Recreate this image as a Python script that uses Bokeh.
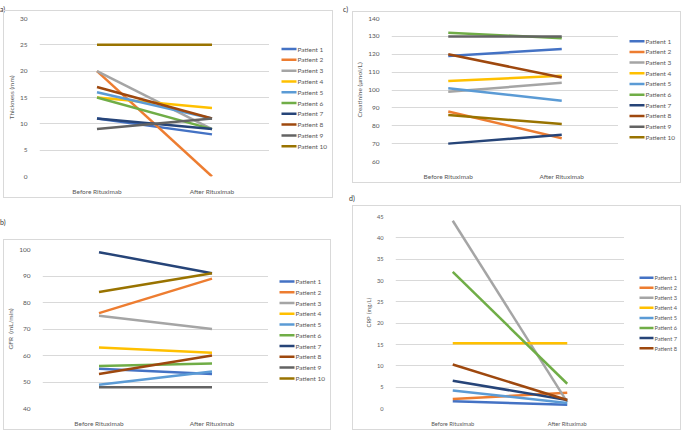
from bokeh.plotting import figure
from bokeh.models import Range1d, Div, Spacer
from bokeh.core.properties import value
from bokeh.layouts import row, column
from bokeh.embed import file_html
from bokeh.resources import INLINE

categories = ["Before Rituximab", "After Rituximab"]
patients = ["Patient 1", "Patient 2", "Patient 3", "Patient 4", "Patient 5",
            "Patient 6", "Patient 7", "Patient 8", "Patient 9", "Patient 10"]
colors = ["#4472C4", "#ED7D31", "#A5A5A5", "#FFC000", "#5B9BD5",
          "#70AD47", "#264478", "#9E480E", "#636363", "#997300"]

thickness_before = [11, 20, 20, 15, 16, 15, 11, 17, 9, 25]
thickness_after = [8, 0, 9, 13, 11, 9, 9, 11, 11, 25]
gfr_before = [55, 76, 75, 63, 49, 56, 99, 53, 48, 84]
gfr_after = [53, 89, 70, 61, 54, 57, 91, 60, 48, 91]
creat_before = [119, 88, 99, 105, 101, 132, 70, 120, 130, 86]
creat_after = [123, 73, 104, 108, 94, 129, 75, 107, 130, 81]
crp_before = [1.7, 2.2, 44, 15.3, 4.2, 32, 6.5, 10.3]
crp_after = [0.9, 3.7, 1.5, 15.3, 1.3, 5.8, 2.0, 2.0]

FONT = "Lato"
GREY = "#595959"
BORDER = "#d9d9d9"


def make_panel(ylabel, ymin, ymax, step, before, after, h, bl, fw, bt, bb,
               lw, lx, ly0, lstep, fs, glen):
    p = figure(x_range=categories, y_range=Range1d(ymin, ymax),
               width=bl + fw, height=h,
               output_backend="svg", toolbar_location=None,
               min_border_left=bl, min_border_right=0,
               min_border_top=bt, min_border_bottom=bb)
    p.outline_line_color = None
    ticks = list(range(ymin, ymax + 1, step))
    p.yaxis.ticker = ticks
    p.ygrid.ticker = ticks
    p.ygrid.grid_line_color = BORDER
    p.xgrid.visible = False
    for ax in (p.xaxis[0], p.yaxis[0]):
        ax.axis_line_color = None
        ax.major_tick_line_color = None
        ax.minor_tick_line_color = None
        ax.major_label_text_font = FONT
        ax.major_label_text_font_size = fs
        ax.major_label_text_color = GREY
    p.xaxis.major_label_standoff = 5
    p.yaxis.major_label_standoff = 6
    p.yaxis.axis_label = ylabel
    p.yaxis.axis_label_text_font = FONT
    p.yaxis.axis_label_text_font_size = fs
    p.yaxis.axis_label_text_font_style = "normal"
    p.yaxis.axis_label_text_color = GREY
    p.yaxis.axis_label_standoff = 2
    for i in range(len(before)):
        p.line(x=categories, y=[before[i], after[i]], line_color=colors[i],
               line_width=2.5)

    # legend drawn as its own small figure (pixel coordinates, y downward)
    n = len(before)
    lg = figure(x_range=Range1d(0, lw), y_range=Range1d(h, 0), width=lw, height=h,
                output_backend="svg", toolbar_location=None,
                x_axis_location=None, y_axis_location=None,
                min_border_left=0, min_border_right=0,
                min_border_top=0, min_border_bottom=0)
    lg.outline_line_color = None
    lg.xgrid.visible = False
    lg.ygrid.visible = False
    ys = [ly0 + k * lstep for k in range(n)]
    lg.segment(x0=[lx] * n, y0=ys, x1=[lx + glen] * n, y1=ys,
               line_color=colors[:n], line_width=2.5)
    lg.text(x=[lx + glen + 1] * n, y=ys, text=patients[:n], text_font=value(FONT),
            text_font_size=fs, text_color=GREY, text_baseline="middle",
            text_align="left")
    return row(p, lg, styles={"border": "1px solid " + BORDER})


def label_div(txt, w, h, pad_top, pad_left):
    return Div(text=f'<div style="padding-top:{pad_top}px;padding-left:{pad_left}px;'
                    f'font-family:Lato;font-size:7px;color:#333;line-height:8px">{txt}</div>',
               width=w, height=h, margin=0)


pa = make_panel("Thickness (mm)", 0, 30, 5, thickness_before, thickness_after,
                186, 33, 232, 7, 16, 63, 12, 36, 12.7, "6.5px", 15)
pb = make_panel("GFR \u00a0(mL/min)", 40, 100, 10, gfr_before, gfr_after,
                189, 37, 227, 9, 16, 62, 11, 38, 12.8, "6.5px", 15)
pc = make_panel("Creatinine (μmol/L)", 60, 140, 10, creat_before, creat_after,
                170, 37, 228, 6, 16, 62, 11, 27, 12.7, "6.5px", 15)
pd = make_panel("CRP \u00a0(mg/L)", 0, 45, 5, crp_before, crp_after,
                223, 42, 229, 10, 20, 56, 15, 71, 11.7, "5.7px", 14)

left = column(label_div("a)", 337, 10, 0, 0),
              row(Spacer(width=3, height=10), pa),
              label_div("b)", 337, 41, 20, 0),
              row(Spacer(width=3, height=10), pb))
right = column(label_div("c)", 345, 11, 0, 3),
               row(Spacer(width=12, height=10), pc),
               label_div("d)", 345, 22, 11, 9),
               row(Spacer(width=12, height=10), pd))
layout = row(left, Spacer(width=3, height=10), right)

open("out.html", "w").write(file_html(layout, INLINE))
